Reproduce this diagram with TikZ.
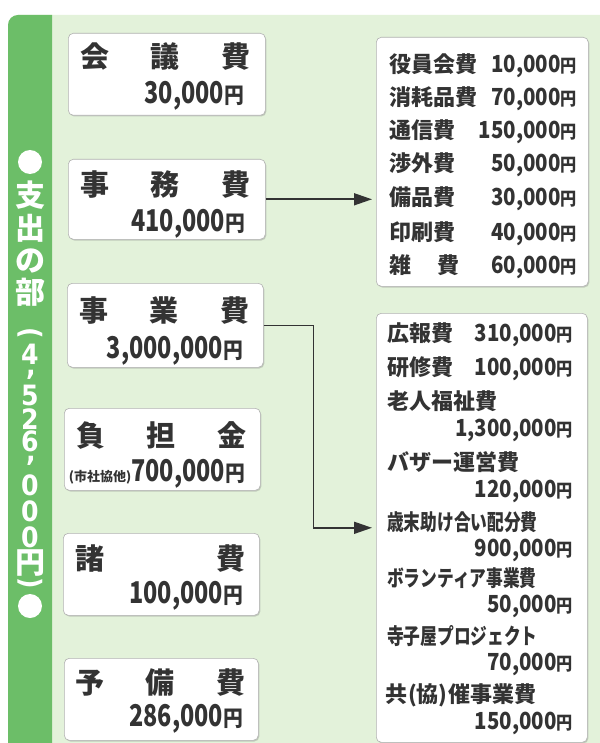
\documentclass[tikz,border=0pt]{standalone}
\usepackage{fontspec}
\usepackage{graphicx}
\usetikzlibrary{arrows.meta,shadows}
\setmainfont{Noto Sans CJK JP}
\newfontfamily\jpf{Noto Sans CJK JP}
\newfontfamily\numf{Noto Sans CJK JP}[FakeStretch=0.78]
\newfontfamily\numsf{Noto Sans CJK JP}[FakeStretch=0.87]
\newfontfamily\yenf{Noto Sans CJK JP}[FakeStretch=0.9]
\newfontfamily\bandnum{DejaVu Sans}[FakeStretch=0.9]
\definecolor{bandg}{HTML}{6CBE68}
\definecolor{bgg}{HTML}{E3F2DA}
\definecolor{ink}{HTML}{333333}
\newcommand{\amtL}[1]{{\numf\bfseries\fontsize{30}{30}\selectfont #1{\yenf\bfseries\fontsize{22}{22}\selectfont 円}}}
\newcommand{\amtS}[1]{{\numsf\bfseries\fontsize{23.5}{23.5}\selectfont #1{\yenf\bfseries\fontsize{18}{18}\selectfont 円}}}
\begin{document}
\begin{tikzpicture}[x=1pt,y=-1pt,
  lbox/.style={draw=black!30, fill=white, rounded corners=5pt, line width=0.6pt, inner sep=0pt, anchor=north west,
    drop shadow={shadow xshift=1pt,shadow yshift=-1.2pt,opacity=0.35}},
  hd/.style={inner sep=0pt, text=ink, font=\jpf\bfseries\fontsize{29}{29}\selectfont, anchor=base west},
  amt/.style={inner sep=0pt, text=ink, anchor=base east},
  lab/.style={inner sep=0pt, text=ink, font=\jpf\bfseries\fontsize{22}{22}\selectfont, anchor=base west},
  vch/.style={inner sep=0pt, text=white, font=\jpf\bfseries\fontsize{30}{30}\selectfont},
  vnum/.style={inner sep=0pt, text=white, font=\bandnum\bfseries\fontsize{28}{28}\selectfont},
  wdot/.style={circle, fill=white, inner sep=0pt, minimum size=24pt},
  conn/.style={draw=ink, line width=1.6pt, -{Triangle[length=18pt,width=12pt]}, shorten >=4pt}
]
\useasboundingbox (0,0) rectangle (599,743);
\fill[white] (0,0) rectangle (599,743);
% backgrounds
\fill[bgg, rounded corners=10pt] (8,15) rectangle (620,770);
\begin{scope}
\clip (0,0) rectangle (52,770);
\fill[bandg, rounded corners=10pt] (8,15) rectangle (90,770);
\end{scope}
% vertical title
\node[wdot] (d1) at (30,162) {};
\node[vch] (v1) at (30,195) {支};
\node[vch] (v2) at (30,228) {出};
\node[vch] (v3) at (30,261) {の};
\node[vch] (v4) at (30,292) {部};
\node[vnum, rotate=-90] (v5) at (30,333) {(};
\node[vnum] (v6) at (30,354) {4};
\node[vnum] (v7) at (31,375) {,};
\node[vnum] (v8) at (30,395) {5};
\node[vnum] (v9) at (30,419) {2};
\node[vnum] (v10) at (30,441) {6};
\node[vnum] (v11) at (31,461) {,};
\node[vnum] (v12) at (30,485) {0};
\node[vnum] (v13) at (30,511) {0};
\node[vnum] (v14) at (30,537) {0};
\node[vch] (v15) at (30,563) {円};
\node[vnum, rotate=-90] (v16) at (30,583) {)};
\node[wdot] (d2) at (30,606) {};
% left boxes
\node[lbox, minimum width=197pt, minimum height=82pt] (b1) at (68,33) {};
\node[hd] (b1a) at (80,68) {\makebox[170pt][s]{会\hfill 議\hfill 費}};
\node[amt] (b1b) at (244,104) {\amtL{30,000}};
\node[lbox, minimum width=197pt, minimum height=80pt] (b2) at (68,159) {};
\node[hd] (b2a) at (80,196) {\makebox[170pt][s]{事\hfill 務\hfill 費}};
\node[amt] (b2b) at (245,231) {\amtL{410,000}};
\node[lbox, minimum width=196pt, minimum height=84pt] (b3) at (67,283) {};
\node[hd] (b3a) at (79,321) {\makebox[170pt][s]{事\hfill 業\hfill 費}};
\node[amt] (b3b) at (243,358) {\amtL{3,000,000}};
\node[lbox, minimum width=196pt, minimum height=82pt] (b4) at (64,408) {};
\node[hd] (b4a) at (76,446) {\makebox[170pt][s]{負\hfill 担\hfill 金}};
\node[amt] (b4b) at (245,481) {{\jpf\bfseries\fontsize{13}{13}\selectfont (市社協他)}\amtL{700,000}};
\node[lbox, minimum width=196pt, minimum height=82pt] (b5) at (63,533) {};
\node[hd] (b5a) at (75,569) {\makebox[170pt][s]{諸\hfill 費}};
\node[amt] (b5b) at (243,603) {\amtL{100,000}};
\node[lbox, minimum width=194pt, minimum height=82pt] (b6) at (64,658) {};
\node[hd] (b6a) at (75,693) {\makebox[170pt][s]{予\hfill 備\hfill 費}};
\node[amt] (b6b) at (243,726) {\amtL{286,000}};
% right box 1
\node[lbox, minimum width=212pt, minimum height=249pt] (r1) at (376,37) {};
\node[lab] (r1l1) at (389,72.4) {役員会費};
\node[amt] (r1a1) at (577,72.5) {\amtS{10,000}};
\node[lab] (r1l2) at (389,105.4) {消耗品費};
\node[amt] (r1a2) at (577,105.5) {\amtS{70,000}};
\node[lab] (r1l3) at (389,138.4) {通信費};
\node[amt] (r1a3) at (577,138.5) {\amtS{150,000}};
\node[lab] (r1l4) at (389,171.4) {渉外費};
\node[amt] (r1a4) at (577,171.5) {\amtS{50,000}};
\node[lab] (r1l5) at (389,205.4) {備品費};
\node[amt] (r1a5) at (577,205.5) {\amtS{30,000}};
\node[lab] (r1l6) at (389,240.4) {印刷費};
\node[amt] (r1a6) at (577,240.5) {\amtS{40,000}};
\node[lab] (r1l7) at (389,273.4) {\makebox[70pt][s]{雑\hfill 費}};
\node[amt] (r1a7) at (577,273.5) {\amtS{60,000}};
% right box 2
\node[lbox, minimum width=211pt, minimum height=429pt] (r2) at (376,313) {};
\node[lab] (r2l1) at (387,341.4) {広報費};
\node[amt] (r2a1) at (573,341.5) {\amtS{310,000}};
\node[lab] (r2l2) at (387,375.4) {研修費};
\node[amt] (r2a2) at (573,375.5) {\amtS{100,000}};
\node[lab] (r2l3) at (387,409.4) {老人福祉費};
\node[amt] (r2a3) at (573,436.5) {\amtS{1,300,000}};
\node[lab] (r2l4) at (387,470.4) {バザー運営費};
\node[amt] (r2a4) at (573,497.5) {\amtS{120,000}};
\node[lab] (r2l5) at (387,530.4) {\scalebox{0.76}[1]{歳末助け合い配分費}};
\node[amt] (r2a5) at (573,556.5) {\amtS{900,000}};
\node[lab] (r2l6) at (387,586.4) {\scalebox{0.76}[1]{ボランティア事業費}};
\node[amt] (r2a6) at (573,612.5) {\amtS{50,000}};
\node[lab] (r2l7) at (387,644.4) {\scalebox{0.76}[1]{寺子屋プロジェクト}};
\node[amt] (r2a7) at (573,670.5) {\amtS{70,000}};
\node[lab] (r2l8) at (385,702.4) {共\hspace{1pt}(協)\hspace{1pt}催事業費};
\node[amt] (r2a8) at (573,729.5) {\amtS{150,000}};
% connectors
\draw[conn] (b2.east) -- (b2.east -| r1.west);
\draw[conn] (b3.east) -- ++(50,0) |- (r2.west);
\end{tikzpicture}
\end{document}
